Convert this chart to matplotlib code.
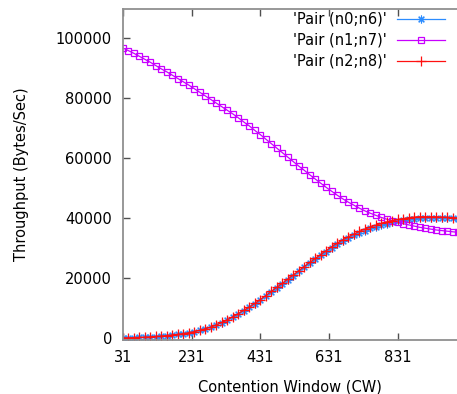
import matplotlib
matplotlib.use("Agg")
import matplotlib.pyplot as plt

# Contention window values (x axis)
cw = [31, 47, 63, 79, 95, 111, 127, 143, 159, 175, 191, 207, 223, 239, 255,
      271, 287, 303, 319, 335, 351, 367, 383, 399, 415, 431, 447, 463, 479,
      495, 511, 527, 543, 559, 575, 591, 607, 623, 639, 655, 671, 687, 703,
      719, 735, 751, 767, 783, 799, 815, 831, 847, 863, 879, 895, 911, 927,
      943, 959, 975, 991, 1007, 1023]

# Throughput per node pair (Bytes/Sec)
pair_n0_n6 = [0, 30, 80, 150, 230, 330, 450, 590, 750, 940, 1150, 1400, 1700,
              2050, 2500, 3000, 3600, 4300, 5100, 6000, 7000, 8000, 9100,
              10200, 11400, 12700, 14000, 15400, 16700, 18000, 19400, 20800,
              22200, 23600, 24900, 26200, 27500, 28800, 30000, 31200, 32300,
              33300, 34200, 35000, 35800, 36500, 37100, 37600, 38100, 38500,
              38900, 39200, 39500, 39700, 39900, 40000, 40100, 40100, 40100,
              40000, 39900, 39800, 39700]
pair_n1_n7 = [96700, 95800, 94900, 93900, 92900, 91900, 90800, 89700, 88700,
              87600, 86500, 85400, 84300, 83100, 81900, 80700, 79500, 78300,
              77100, 75900, 74700, 73400, 72000, 70700, 69200, 67800, 66300,
              64800, 63300, 61800, 60300, 58800, 57300, 55900, 54400, 53000,
              51600, 50200, 48900, 47600, 46400, 45300, 44300, 43300, 42400,
              41600, 40900, 40200, 39600, 39100, 38600, 38100, 37700, 37300,
              36900, 36600, 36300, 36000, 35800, 35600, 35400, 35200, 35000]
pair_n2_n8 = [0, 40, 90, 160, 250, 350, 470, 610, 780, 970, 1190, 1440, 1750,
              2100, 2550, 3050, 3650, 4350, 5150, 6050, 7050, 8100, 9200,
              10300, 11500, 12800, 14100, 15500, 16900, 18200, 19600, 21000,
              22400, 23800, 25200, 26500, 27800, 29100, 30400, 31600, 32700,
              33700, 34600, 35500, 36300, 37000, 37600, 38200, 38700, 39100,
              39500, 39800, 40100, 40300, 40400, 40400, 40400, 40400, 40300,
              40200, 40100, 40000, 39900]

xticks = [31, 231, 431, 631, 831]
yticks = [0, 20000, 40000, 60000, 80000, 100000]

fig = plt.figure(figsize=(4.57, 3.94), dpi=100)
ax = fig.add_axes([123 / 457, 1 - 340 / 394, 1 - 123 / 457, (340 - 9) / 394])

ax.plot(cw, pair_n0_n6, color="#2b8cff", lw=0.9, marker=(8, 2, 0),
        markersize=5.6, markeredgewidth=0.8, label="'Pair (n0;n6)'")
ax.plot(cw, pair_n1_n7, color="#c800ff", lw=0.9, marker="s",
        markersize=4.5, markerfacecolor="none", markeredgewidth=0.9,
        label="'Pair (n1;n7)'")
ax.plot(cw, pair_n2_n8, color="#ff1010", lw=0.9, marker="+",
        markersize=6.6, markeredgewidth=0.9, label="'Pair (n2;n8)'")

ax.set_xlim(31, 1004)
ax.set_ylim(-700, 109700)
ax.set_xticks(xticks)
ax.set_xticklabels([str(v) for v in xticks])
ax.set_yticks(yticks)
ax.set_yticklabels([str(v) for v in yticks])

for side in ("left", "bottom", "top"):
    ax.spines[side].set_color("#909090")
    ax.spines[side].set_linewidth(1.3)
ax.spines["right"].set_visible(False)
ax.tick_params(axis="both", direction="in", length=5, width=1,
               color="#505050", labelsize=10.5, top=True)
ax.tick_params(axis="x", pad=7)
ax.tick_params(axis="y", pad=8)

ax.set_xlabel("Contention Window (CW)", fontsize=10.5, labelpad=11)
ax.set_ylabel("Throughput (Bytes/Sec)", fontsize=10.5, labelpad=19)

leg = ax.legend(loc="upper right", bbox_to_anchor=(445 / 457, 1 - 12 / 394),
                bbox_transform=fig.transFigure, frameon=False,
                markerfirst=False, fontsize=10.5, handlelength=3.3,
                handletextpad=0.7, labelspacing=0.4, borderpad=0,
                borderaxespad=0)

fig.savefig("out.png", dpi=100)
